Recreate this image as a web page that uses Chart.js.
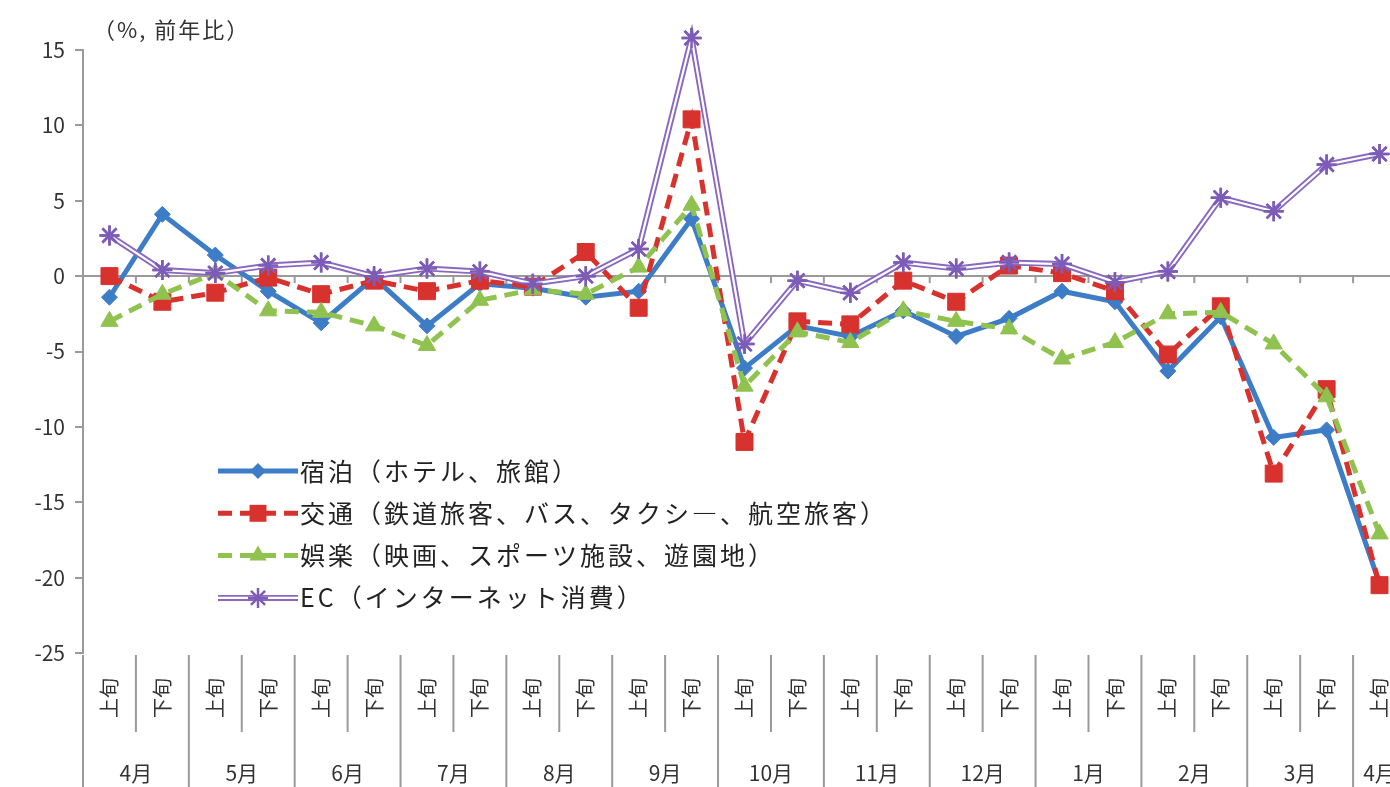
<!DOCTYPE html>
<html lang="ja">
<head>
<meta charset="UTF-8">
<title>消費動向（前年比）</title>
<script src="https://cdn.jsdelivr.net/npm/chart.js"></script>
<style>
  body {
    margin: 0;
    background: white;
    overflow: hidden;
  }
  .chart-wrap {
    position: relative;
    width: 1420px;
    height: 787px;
  }
</style>
</head>
<body>
<div class="chart-wrap"><canvas id="lineChart"></canvas></div>

<script>
  const months = ['4月', '5月', '6月', '7月', '8月', '9月', '10月', '11月', '12月', '1月', '2月', '3月', '4月'];
  const halves = ['上旬', '下旬'];
  const categories = months.flatMap(m => halves.map(h => m + h)).slice(0, 25);

  const yTicks = { min: -25, max: 15, step: 5 };

  const lodging = [-1.4, 4.1, 1.4, -1.0, -3.1, -0.1, -3.3, -0.5, -0.8, -1.4, -1.0, 3.8, -6.1,
                   -3.3, -4.0, -2.3, -4.0, -2.8, -1.0, -1.7, -6.3, -2.7, -10.7, -10.2, -20.4];
  const transport = [0.0, -1.7, -1.1, -0.1, -1.2, -0.3, -1.0, -0.3, -0.7, 1.6, -2.1, 10.4, -11.0,
                     -3.0, -3.2, -0.3, -1.7, 0.7, 0.2, -1.0, -5.2, -2.0, -13.1, -7.5, -20.5];
  const leisure = [-3.0, -1.2, 0.2, -2.3, -2.4, -3.3, -4.6, -1.6, -0.9, -1.2, 0.6, 4.7, -7.3,
                   -3.7, -4.4, -2.3, -3.0, -3.5, -5.5, -4.4, -2.5, -2.4, -4.5, -8.0, -17.1];
  const ecommerce = [2.7, 0.4, 0.2, 0.7, 0.9, 0.0, 0.5, 0.3, -0.5, 0.0, 1.8, 15.8, -4.5,
                     -0.3, -1.1, 0.9, 0.5, 0.9, 0.8, -0.4, 0.3, 5.2, 4.3, 7.4, 8.1];

  const seriesNames = [
    '宿泊（ホテル、旅館）',
    '交通（鉄道旅客、バス、タクシ―、航空旅客）',
    '娯楽（映画、スポーツ施設、遊園地）',
    'EC（インターネット消費）'
  ];

  const JP = "'Noto Sans CJK JP', 'Noto Sans', sans-serif";
  const AXIS = '#9a9a9a';

  // white core drawn over the purple line -> Excel style double line
  const doubleLine = {
    id: 'doubleLine',
    afterDatasetDraw(chart, args) {
      const ds = chart.data.datasets[args.index];
      if (!ds.doubleLine) return;
      const pts = args.meta.data;
      const ctx = chart.ctx;
      ctx.save();
      ctx.strokeStyle = 'white';
      ctx.lineWidth = 2.2;
      ctx.beginPath();
      pts.forEach((p, i) => i ? ctx.lineTo(p.x, p.y) : ctx.moveTo(p.x, p.y));
      ctx.stroke();
      ctx.restore();
      pts.forEach(p => p.draw(ctx));
    }
  };

  function drawMarker(ctx, style, r, x, y) {
    ctx.beginPath();
    if (style === 'rectRot') {
      ctx.moveTo(x - r, y); ctx.lineTo(x, y - r); ctx.lineTo(x + r, y); ctx.lineTo(x, y + r);
      ctx.closePath(); ctx.fill();
    } else if (style === 'rect') {
      const s = r * Math.SQRT1_2;
      ctx.rect(x - s, y - s, 2 * s, 2 * s); ctx.fill();
    } else if (style === 'triangle') {
      ctx.moveTo(x, y - r); ctx.lineTo(x + r * 0.87, y + r * 0.5); ctx.lineTo(x - r * 0.87, y + r * 0.5);
      ctx.closePath(); ctx.fill();
    } else if (style === 'star') {
      for (let k = 0; k < 4; k++) {
        const a = k * Math.PI / 4;
        ctx.moveTo(x - Math.cos(a) * r, y - Math.sin(a) * r);
        ctx.lineTo(x + Math.cos(a) * r, y + Math.sin(a) * r);
      }
      ctx.stroke();
    }
  }

  const decor = {
    id: 'decor',
    beforeDatasetsDraw(chart) {
      // small tick marks under the zero line at category boundaries
      const { ctx, scales: { x, y } } = chart;
      const w = x.getPixelForValue(1) - x.getPixelForValue(0);
      const y0 = y.getPixelForValue(0);
      ctx.save();
      ctx.strokeStyle = AXIS;
      ctx.lineWidth = 2;
      for (let i = 0; i <= categories.length; i++) {
        const bx = x.getPixelForValue(0) - w / 2 + i * w;
        ctx.beginPath(); ctx.moveTo(bx, y0); ctx.lineTo(bx, y0 + 7); ctx.stroke();
      }
      ctx.restore();
    },
    afterDraw(chart) {
      const { ctx, chartArea: a, scales: { x, y } } = chart;
      const w = x.getPixelForValue(1) - x.getPixelForValue(0);
      const H = chart.height;
      ctx.save();

      // multi level category axis
      ctx.strokeStyle = AXIS;
      ctx.lineWidth = 2;
      for (let i = 0; i <= categories.length; i++) {
        const bx = x.getPixelForValue(0) - w / 2 + i * w;
        ctx.beginPath();
        ctx.moveTo(bx, a.bottom + 2);
        ctx.lineTo(bx, i % 2 === 0 ? H : a.bottom + 79);
        ctx.stroke();
      }
      ctx.fillStyle = '#333';
      ctx.font = '20px ' + JP;
      ctx.textAlign = 'center';
      ctx.textBaseline = 'middle';
      categories.forEach((c, i) => {
        const cx = x.getPixelForValue(i);
        ctx.save();
        ctx.translate(cx, a.bottom + 45);
        ctx.rotate(-Math.PI / 2);
        ctx.fillText(halves[i % 2], 0, 0);
        ctx.restore();
      });
      ctx.font = '21px ' + JP;
      months.forEach((m, k) => {
        const i0 = 2 * k, i1 = Math.min(2 * k + 1, categories.length - 1);
        const cx = (x.getPixelForValue(i0) + x.getPixelForValue(i1)) / 2;
        ctx.fillText(m, cx, H - 14);
      });

      // unit note
      ctx.textAlign = 'left';
      ctx.font = '22px ' + JP;
      ctx.letterSpacing = '2px';
      ctx.fillText('（%, 前年比）', a.left + 10, a.top - 20);
      ctx.letterSpacing = '0px';

      // legend inside the plot
      const lx = 218, ly = 471, gap = 42.3;
      chart.data.datasets.forEach((ds, i) => {
        if (!ds.label) return;
        const yy = ly + i * gap;
        ctx.save();
        ctx.strokeStyle = ds.borderColor;
        ctx.lineWidth = ds.borderWidth;
        ctx.setLineDash(ds.borderDash || []);
        ctx.beginPath(); ctx.moveTo(lx, yy); ctx.lineTo(lx + 80, yy); ctx.stroke();
        if (ds.doubleLine) {
          ctx.strokeStyle = 'white'; ctx.lineWidth = 2.2;
          ctx.beginPath(); ctx.moveTo(lx, yy); ctx.lineTo(lx + 80, yy); ctx.stroke();
        }
        ctx.setLineDash([]);
        ctx.fillStyle = ds.pointBackgroundColor;
        ctx.strokeStyle = ds.pointBorderColor;
        ctx.lineWidth = ds.pointBorderWidth;
        drawMarker(ctx, ds.pointStyle, ds.pointRadius, lx + 40, yy);
        ctx.restore();
        ctx.fillStyle = '#222';
        ctx.font = '25px ' + JP;
        ctx.letterSpacing = '3px';
        ctx.textBaseline = 'middle';
        ctx.fillText(ds.label, lx + 82, yy);
        ctx.letterSpacing = '0px';
      });
      ctx.restore();
    }
  };

  new Chart(document.getElementById('lineChart'), {
    type: 'line',
    data: {
      labels: categories,
      datasets: [
        {
          label: seriesNames[0], data: lodging, order: 3,
          borderColor: '#3d7dc8', borderWidth: 5,
          pointStyle: 'rectRot', pointRadius: 8, pointBorderWidth: 1,
          pointBackgroundColor: '#3d7dc8', pointBorderColor: '#3d7dc8'
        },
        {
          label: seriesNames[1], data: transport, order: 2,
          borderColor: '#d8322e', borderWidth: 5, borderDash: [14, 8],
          pointStyle: 'rect', pointRadius: 12, pointBorderWidth: 1,
          pointBackgroundColor: '#d8322e', pointBorderColor: '#d8322e'
        },
        {
          label: seriesNames[2], data: leisure, order: 1,
          borderColor: '#8fc24e', borderWidth: 5, borderDash: [14, 8],
          pointStyle: 'triangle', pointRadius: 10, pointBorderWidth: 1,
          pointBackgroundColor: '#8fc24e', pointBorderColor: '#8fc24e'
        },
        {
          label: seriesNames[3], data: ecommerce, order: 0, doubleLine: true,
          borderColor: '#8a68c0', borderWidth: 6,
          pointStyle: 'star', pointRadius: 10, pointBorderWidth: 2.5,
          pointBackgroundColor: '#8a68c0', pointBorderColor: '#7d5cb8'
        }
      ]
    },
    options: {
      responsive: true,
      maintainAspectRatio: false,
      animation: false,
      layout: { padding: { top: 50, right: 14, left: 0, bottom: 0 } },
      elements: { line: { tension: 0 } },
      datasets: { line: { clip: false } },
      plugins: {
        legend: { display: false },
        tooltip: { enabled: false }
      },
      scales: {
        x: {
          offset: true,
          grid: { display: false },
          border: { display: false },
          ticks: { display: false },
          afterFit: s => { s.height = 134; }
        },
        y: {
          min: yTicks.min,
          max: yTicks.max,
          ticks: {
            stepSize: yTicks.step,
            padding: 10,
            color: '#333',
            font: { size: 21, family: JP }
          },
          grid: {
            color: c => c.tick && c.tick.value === 0 ? AXIS : 'transparent',
            tickColor: AXIS,
            tickLength: 8,
            lineWidth: 2
          },
          border: { color: AXIS, width: 2 },
          afterFit: s => { s.width = 83; }
        }
      }
    },
    plugins: [doubleLine, decor]
  });
</script>
</body>
</html>
